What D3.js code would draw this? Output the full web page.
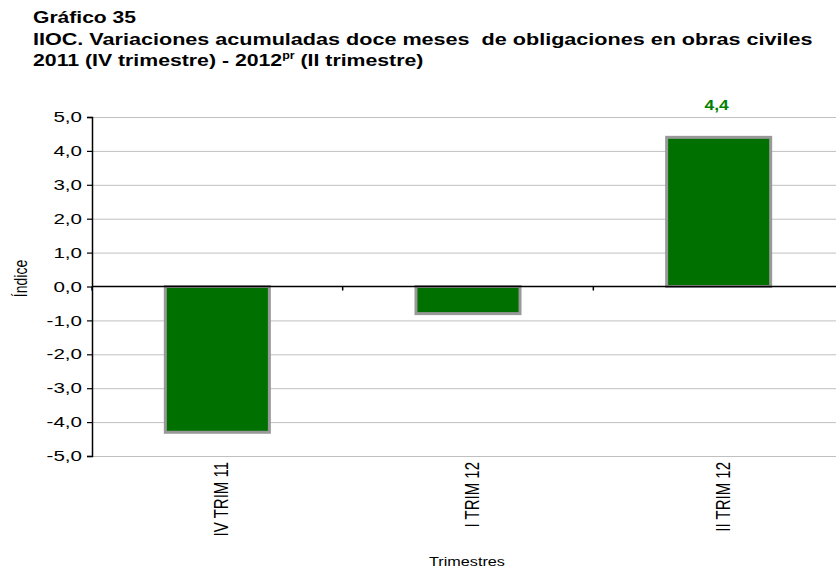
<!DOCTYPE html>
<html>
<head>
<meta charset="utf-8">
<script src="https://cdn.jsdelivr.net/npm/d3@7"></script>
<style>
  html, body { margin: 0; padding: 0; background: #fff; }
  svg { display: block; font-family: Arial, "Liberation Sans", sans-serif; }
</style>
</head>
<body>
<svg id="chart" width="836" height="568"></svg>
<script>
// Trimestres y variación acumulada doce meses (%)
const categories = ["IV TRIM 11", "I TRIM 12", "II TRIM 12"];
const values = [-4.3, -0.8, 4.4];
const yTicks = [5, 4, 3, 2, 1, 0, -1, -2, -3, -4, -5];
// Solo la última barra lleva etiqueta de valor
const labelled = [false, false, true];

(function draw() {
  const svg = d3.select("#chart");
  const fmt = v => d3.format(".1f")(v).replace(".", ",").replace("−", "-");

  const plotLeft = 92, plotRight = 844, plotTop = 117, plotBottom = 456;
  // Ensanchamiento horizontal del texto (tipografía ancha)
  const sx = 1.3;

  const x = d3.scaleBand().domain(categories).range([plotLeft, plotRight])
    .paddingInner(0.585).paddingOuter(0.2925);
  const y = d3.scaleLinear().domain([-5, 5]).range([plotBottom, plotTop]);

  // Texto anclado en (px, py) con escala horizontal y giro opcional
  function label(parent, px, py, scaleX, rot) {
    return parent.append("g")
      .attr("transform", `translate(${px},${py}) scale(${scaleX},1)` + (rot ? ` rotate(${rot})` : ""))
      .append("text");
  }

  // Título
  const title = svg.append("g").attr("font-weight", "bold").attr("font-size", 17).attr("fill", "#000");
  label(title, 33, 23, 1.24).text("Gráfico 35");
  label(title, 33, 45, 1.27).style("white-space", "pre")
    .text("IIOC. Variaciones acumuladas doce meses  de obligaciones en obras civiles");
  const t3 = label(title, 33, 66, 1.25);
  t3.append("tspan").text("2011 (IV trimestre)");
  t3.append("tspan").text(" - 2012");
  t3.append("tspan").attr("font-size", 10).attr("dy", -7).text("pr");
  t3.append("tspan").attr("dy", 7).text(" (II trimestre)");

  // Líneas de cuadrícula
  svg.append("g").selectAll("line").data(yTicks.filter(d => d !== 0)).join("line")
    .attr("x1", plotLeft).attr("x2", plotRight)
    .attr("y1", d => y(d) + 0.5).attr("y2", d => y(d) + 0.5)
    .attr("stroke", "#c0c0c0").attr("stroke-width", 1);

  // Barras
  svg.append("g").selectAll("rect").data(values).join("rect")
    .attr("x", (d, i) => x(categories[i]))
    .attr("width", x.bandwidth())
    .attr("y", d => y(Math.max(0, d)))
    .attr("height", d => Math.abs(y(d) - y(0)))
    .attr("fill", "#007000")
    .attr("stroke", "#999999")
    .attr("stroke-width", 3);

  // Eje Y
  const tsx = 1.42;
  const yAxis = svg.append("g").attr("transform", `translate(${plotLeft},0)`)
    .call(d3.axisLeft(y).tickValues(yTicks).tickFormat(fmt).tickSize(5).tickPadding(5));
  yAxis.select(".domain").attr("stroke", "#000").attr("stroke-width", 1.5);
  yAxis.selectAll(".tick line").attr("stroke", "#000").attr("stroke-width", 1.2);
  yAxis.selectAll(".tick text").attr("font-size", 14.5).attr("fill", "#000")
    .attr("font-family", "Arial, 'Liberation Sans', sans-serif")
    .attr("x", -10 / tsx).attr("transform", `scale(${tsx},1)`);

  // Eje de categorías sobre el cero
  const xAxis = svg.append("g").attr("transform", `translate(0,${y(0)})`)
    .call(d3.axisBottom(x).tickSize(4).tickFormat(""));
  xAxis.select(".domain").attr("stroke", "#000").attr("stroke-width", 1.5)
    .attr("d", `M${plotLeft},0H${plotRight}`);
  xAxis.selectAll(".tick").attr("transform", d => `translate(${x(d) - x.step() * x.paddingInner() / 2},0)`);
  xAxis.selectAll(".tick line").attr("stroke", "#000").attr("stroke-width", 1.5);

  // Etiquetas de categoría, giradas
  const catG = svg.append("g").attr("font-size", 15).attr("fill", "#000");
  categories.forEach(c => {
    label(catG, x(c) + x.bandwidth() / 2 + 11, plotBottom + 6, 1.35, -90)
      .attr("text-anchor", "end").text(c);
  });

  // Etiqueta de valor
  values.forEach((v, i) => {
    if (!labelled[i]) return;
    label(svg, x(categories[i]) + x.bandwidth() / 2 - 2, y(v) - 27, 1.2)
      .attr("text-anchor", "middle")
      .attr("font-size", 14.5).attr("font-weight", "bold").attr("fill", "#008000")
      .text(fmt(v));
  });

  // Títulos de ejes
  label(svg, 27, y(0) - 8, sx, -90)
    .attr("text-anchor", "middle").attr("font-size", 14).attr("fill", "#000").text("Índice");
  label(svg, 467, 566, 1.2)
    .attr("text-anchor", "middle").attr("font-size", 13.5).attr("fill", "#000").text("Trimestres");
})();
</script>
</body>
</html>
